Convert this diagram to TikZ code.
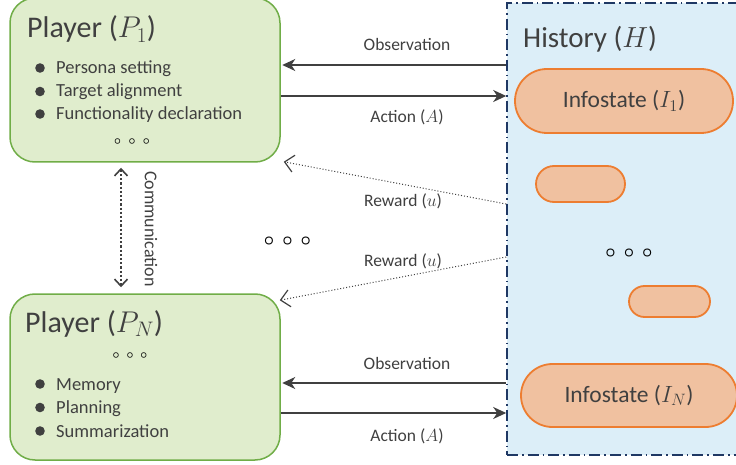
\RequirePackage{fix-cm}
\documentclass[tikz,border=0pt]{standalone}
\usepackage{fontspec}
\setmainfont{Carlito}
\usepackage{bm}
\usetikzlibrary{arrows.meta,shapes.misc}
\definecolor{txt}{HTML}{404040}
\definecolor{grnfill}{HTML}{E0EDCD}
\definecolor{grn}{HTML}{70AD47}
\definecolor{bluefill}{HTML}{DCEEF8}
\definecolor{navy}{HTML}{1F3864}
\definecolor{orngfill}{HTML}{F0C1A0}
\definecolor{orng}{HTML}{ED7D31}
\newcommand\tridots[1]{${\bm\circ}\hspace{#1}{\bm\circ}\hspace{#1}{\bm\circ}$}
\begin{document}
\begin{tikzpicture}[x=1pt,y=-1pt,
  player/.style={draw=grn, fill=grnfill, line width=1.5pt, rounded corners=25pt, inner sep=0pt},
  hbox/.style={draw=navy, fill=bluefill, line width=1.6pt, dash pattern=on 11pt off 4pt on 1.6pt off 4pt, inner sep=0pt},
  pill/.style={rounded rectangle, draw=orng, fill=orngfill, line width=1.8pt, inner sep=0pt, text=txt, font=\fontsize{23.5}{28}\selectfont},
  ttl/.style={anchor=base west, inner sep=0pt, text=txt, font=\fontsize{30}{36}\selectfont},
  item/.style={anchor=base west, inner sep=0pt, text=txt, font=\fontsize{18.5}{22}\selectfont},
  lbl/.style={inner sep=0pt, text=txt, font=\fontsize{17.5}{21}\selectfont},
  dotsS/.style={anchor=base, inner sep=0pt, text=black, font=\fontsize{12}{14}\selectfont},
  dotsB/.style={anchor=base, inner sep=0pt, text=black, font=\fontsize{18}{22}\selectfont},
  solidarr/.style={draw=txt, line width=1.5pt, -{Stealth[length=13pt,width=12pt,inset=4pt]}},
  rewarr/.style={draw=txt, line width=1pt, dotted, -{Straight Barb[length=9pt,width=17pt,line width=1.2pt]}},
  comarr/.style={draw=txt, line width=2.2pt, dotted, {Straight Barb[length=7pt,width=13pt,line width=1.6pt]}-{Straight Barb[length=7pt,width=13pt,line width=1.6pt]}},
  bul/.style={fill=txt}
]
\useasboundingbox (0,0) rectangle (736,465);

% history container
\node[hbox, minimum width=240pt, minimum height=452pt] (hist) at (627,229) {};
\node[ttl, font=\fontsize{29}{34}\selectfont] (th) at (523,48) {History ($H$)};

% infostates
\node[pill, minimum width=218pt, minimum height=64pt] (i1) at (624,101) {Infostate ($I_1$)};
\node[pill, minimum width=89pt, minimum height=36pt] (s1) at (580.5,184) {};
\node[pill, minimum width=81pt, minimum height=31pt] (s2) at (669.5,301.5) {};
\node[pill, minimum width=216pt, minimum height=63pt] (iN) at (629,395.5) {Infostate ($I_N$)};
\node[dotsB] (hd) at (629,258) {\tridots{8pt}};

% players
\node[player, minimum width=270pt, minimum height=164pt] (p1) at (145,80) {};
\node[player, minimum width=270pt, minimum height=166pt] (pn) at (145,377) {};

\node[ttl] (t1) at (27,38) {Player ($P_1$)};
\node[ttl] (tn) at (25,332) {Player ($P_N$)};

\node[item] (a1) at (56,74) {Persona setting};
\node[item] (a2) at (56,97) {Target alignment};
\node[item] (a3) at (56,120) {Functionality declaration};
\fill[bul] (40,68) circle (4.8pt);
\fill[bul] (40,91.5) circle (4.8pt);
\fill[bul] (40,114) circle (4.8pt);
\node[dotsS] (d1) at (132,145) {\tridots{7.5pt}};

\node[dotsS] (dn) at (130,358) {\tridots{7pt}};
\node[item] (b1) at (56,390) {Memory};
\node[item] (b2) at (56,413) {Planning};
\node[item] (b3) at (56,437) {Summarization};
\fill[bul] (40,384) circle (4.8pt);
\fill[bul] (40,407.5) circle (4.8pt);
\fill[bul] (40,431) circle (4.8pt);

% middle dots
\node[dotsB] (md) at (287.5,245.5) {\tridots{8pt}};

% top arrows
\draw[solidarr] (hist.west |- {(0,65)}) -- ([xshift=1.5pt]p1.east |- {(0,65)});
\node[lbl] (lo1) at (407,44) {Observation};
\draw[solidarr] (p1.east |- {(0,96)}) -- (hist.west |- {(0,96)});
\node[lbl] (la1) at (407,117) {Action ($A$)};

% reward arrows
\draw[rewarr] (hist.west |- {(0,204)}) -- ([xshift=3pt,yshift=1pt]p1.south east);
\node[lbl] (lr1) at (403,201) {Reward ($u$)};
\draw[rewarr] (hist.west |- {(0,257)}) -- ([xshift=-1pt,yshift=-7pt]pn.north east);
\node[lbl] (lr2) at (403,261) {Reward ($u$)};

% bottom arrows
\draw[solidarr] (hist.west |- {(0,383)}) -- ([xshift=1.5pt]pn.east |- {(0,383)});
\node[lbl] (lo2) at (407,363) {Observation};
\draw[solidarr] (pn.east |- {(0,413)}) -- (hist.west |- {(0,413)});
\node[lbl] (la2) at (407,436) {Action ($A$)};

% communication
\draw[comarr, shorten <=5pt, shorten >=6pt] (p1.south -| {(121,0)}) -- (pn.north -| {(121,0)});
\node[lbl, rotate=-90, font=\fontsize{18}{22}\selectfont] (lc) at (151,229) {Communication};
\end{tikzpicture}
\end{document}
